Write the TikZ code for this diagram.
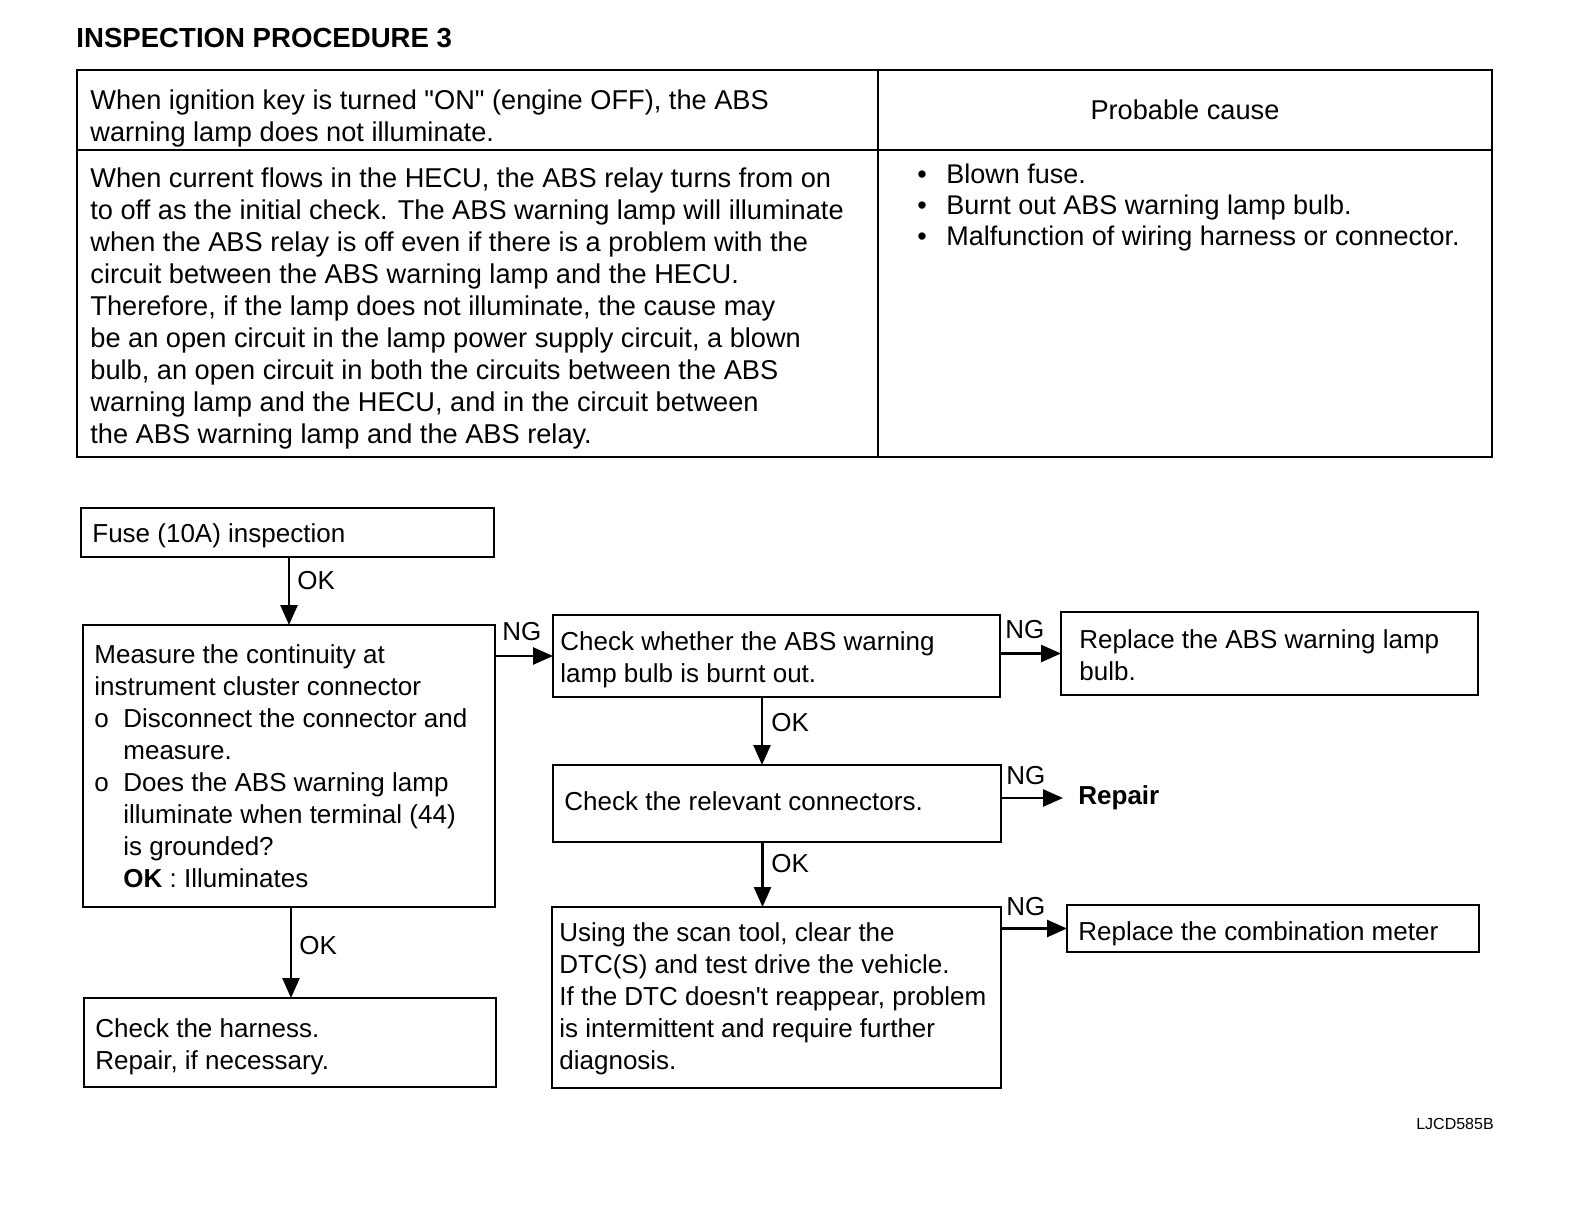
\documentclass[tikz,border=0pt]{standalone}
\usepackage{fontspec}
\setmainfont{Liberation Sans}
\newfontfamily\rf{Liberation Sans}
\usetikzlibrary{arrows.meta}
\begin{document}
\begin{tikzpicture}[x=0.5pt,y=-0.5pt,
  box/.style={draw,line width=1.3pt,inner sep=0pt,outer sep=0pt,anchor=north west},
  txt/.style={inner sep=0pt,anchor=west,align=left,font=\rf\fontsize{13}{16}\selectfont},
  ttxt/.style={inner sep=0pt,anchor=west,align=left,font=\rf\fontsize{13.6}{16}\selectfont},
  lbl/.style={inner sep=0pt,anchor=west,font=\rf\fontsize{13}{16}\selectfont},
  arr/.style={line width=1.3pt,-{Triangle[length=10pt,width=8.5pt]}},
  tbl/.style={line width=1.2pt}]
\useasboundingbox (0,0) rectangle (1584,1208);

% title
\node[lbl,font=\rf\fontsize{13.8}{16}\bfseries] (title) at (76,38) {INSPECTION PROCEDURE 3};

% table
\draw[tbl] (77,70) rectangle (1492,457);
\draw[tbl] (878,70) -- (878,457);
\draw[tbl] (77,150) -- (1492,150);
\node[ttxt,yshift=-0.5pt] (sym) at (90,117) {When ignition key is turned "ON" (engine OFF), the ABS\\warning lamp does not illuminate.};
\node[inner sep=0pt,font=\rf\fontsize{13.6}{16}\selectfont] (pchead) at (1185,110) {Probable cause};
\node[ttxt] (desc) at (90,308) {When current flows in the HECU, the ABS relay turns from on\\
to off as the initial check. The ABS warning lamp will illuminate\\
when the ABS relay is off even if there is a problem with the\\
circuit between the ABS warning lamp and the HECU.\\
Therefore, if the lamp does not illuminate, the cause may\\
be an open circuit in the lamp power supply circuit, a blown\\
bulb, an open circuit in both the circuits between the ABS\\
warning lamp and the HECU, and in the circuit between\\
the ABS warning lamp and the ABS relay.};
\node[ttxt,font=\rf\fontsize{13.5}{15.5}\selectfont] (causes) at (917,208) {\makebox[14.5pt][l]{\textbullet}Blown fuse.\\
\makebox[14.5pt][l]{\textbullet}Burnt out ABS warning lamp bulb.\\
\makebox[14.5pt][l]{\textbullet}Malfunction of wiring harness or connector.};

% boxes
\node[box,minimum width=206.5pt,minimum height=24.5pt] (fuse) at (81,508) {};
\node[box,minimum width=206pt,minimum height=141pt] (measure) at (83,625) {};
\node[box,minimum width=206pt,minimum height=44.5pt] (harness) at (84,998) {};
\node[box,minimum width=223.5pt,minimum height=41pt] (bulb) at (553,615) {};
\node[box,minimum width=208.5pt,minimum height=41.5pt] (repbulb) at (1061,612) {};
\node[box,minimum width=224pt,minimum height=38.5pt] (conn) at (553,765) {};
\node[box,minimum width=224.5pt,minimum height=90.5pt] (scan) at (552,907) {};
\node[box,minimum width=206pt,minimum height=23.5pt] (comb) at (1067,905) {};

% box texts
\node[txt,yshift=-1.5pt] (fuset) at ([xshift=5.5pt]fuse.west) {Fuse (10A) inspection};
\node[txt] (measuret) at ([xshift=5.5pt]measure.west) {Measure the continuity at\\
instrument cluster connector\\
\makebox[14.5pt][l]{o}Disconnect the connector and\\
\hspace*{14.5pt}measure.\\
\makebox[14.5pt][l]{o}Does the ABS warning lamp\\
\hspace*{14.5pt}illuminate when terminal (44)\\
\hspace*{14.5pt}is grounded?\\
\hspace*{14.5pt}\textbf{OK} : Illuminates};
\node[txt,yshift=-2pt] (harnesst) at ([xshift=5.5pt]harness.west) {Check the harness.\\Repair, if necessary.};
\node[txt,yshift=-1.75pt] (bulbt) at ([xshift=3.5pt]bulb.west) {Check whether the ABS warning\\lamp bulb is burnt out.};
\node[txt,yshift=-1pt] (repbulbt) at ([xshift=9pt]repbulb.west) {Replace the ABS warning lamp\\bulb.};
\node[txt,yshift=1pt] (connt) at ([xshift=5.5pt]conn.west) {Check the relevant connectors.};
\node[txt,yshift=-0.75pt] (scant) at ([xshift=3.5pt]scan.west) {Using the scan tool, clear the\\
DTC(S) and test drive the vehicle.\\
If the DTC doesn't reappear, problem\\
is intermittent and require further\\
diagnosis.};
\node[txt,yshift=-2.5pt] (combt) at ([xshift=5.5pt]comb.west) {Replace the combination meter};
\node[lbl,font=\rf\fontsize{13}{16}\bfseries] (repair) at (1078,798) {Repair};

% connectors
\draw[arr] (fuse.south -| measure.north) -- (measure.north);
\draw[arr] ([xshift=1pt]measure.south) -- ([xshift=1pt]measure.south |- harness.north);
\draw[arr] (measure.east |- bulb.west) -- (bulb.west);
\draw[arr] (bulb.east |- repbulb.west) -- (repbulb.west);
\draw[arr] ([xshift=-7.25pt]bulb.south) -- ([xshift=-7.25pt]bulb.south |- conn.north);
\draw[arr] (conn.east |- repair.west) -- ([xshift=-7.5pt]repair.west);
\draw[arr] ([xshift=-7.25pt]conn.south) -- ([xshift=-7.25pt]conn.south |- scan.north);
\draw[arr] (scan.east |- comb.west) -- (comb.west);

% labels
\node[lbl] (ok1) at (297,581) {OK};
\node[lbl] (ok2) at (299,946) {OK};
\node[lbl] (ok3) at (771,723) {OK};
\node[lbl] (ok4) at (771,864) {OK};
\node[lbl] (ng1) at (502,632) {NG};
\node[lbl] (ng2) at (1005,630) {NG};
\node[lbl] (ng3) at (1006,776) {NG};
\node[lbl] (ng4) at (1006,907) {NG};

\node[inner sep=0pt,font=\rf\fontsize{8}{10}\selectfont] (code) at (1455,1124) {LJCD585B};
\end{tikzpicture}
\end{document}
